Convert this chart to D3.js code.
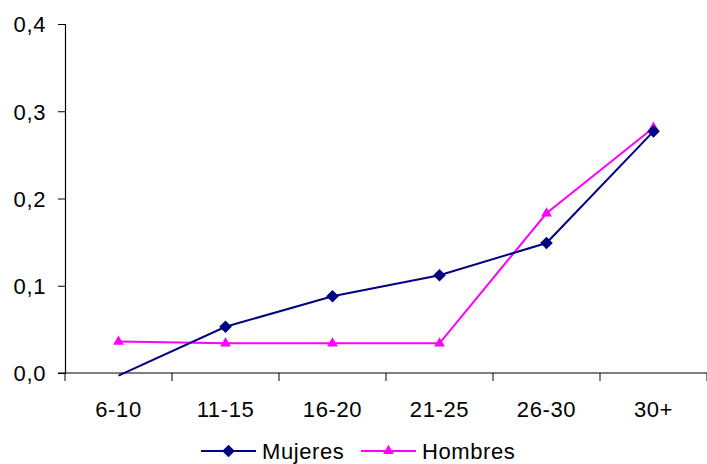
<!DOCTYPE html>
<html><head><meta charset="utf-8">
<script src="https://cdn.jsdelivr.net/npm/d3@7"></script>
<style>body{margin:0;background:#fff}svg{display:block}text{font-family:"Liberation Sans",Arial,sans-serif;fill:#000;letter-spacing:0.6px}</style>
</head><body>
<script>
const categories = ["6-10","11-15","16-20","21-25","26-30","30+"];
const mujeres = [-0.003, 0.053, 0.088, 0.112, 0.149, 0.277];
const hombres = [0.036, 0.034, 0.034, 0.034, 0.183, 0.281];
const yTicks = [0, 0.1, 0.2, 0.3, 0.4];
const yTickLabels = ["0,0","0,1","0,2","0,3","0,4"];
const seriesNames = ["Mujeres","Hombres"];

(function(){
const W = 707, H = 464;
const FS = "22px";
const svg = d3.select("body").append("svg").attr("width", W).attr("height", H);
const mLeft = 65, mRight = 707, mTop = 24, mBottom = 373;
const x = d3.scaleBand().domain(categories).range([mLeft, mRight]);
const y = d3.scaleLinear().domain([0, 0.4]).range([mBottom, mTop]);

const yAxis = d3.axisLeft(y).tickValues(yTicks).tickSize(7).tickPadding(12)
  .tickFormat((d,i) => yTickLabels[i]);
const gy = svg.append("g").attr("transform", `translate(${mLeft},0)`).call(yAxis);
gy.select(".domain").attr("stroke", "#000").attr("stroke-width", 1.2);
gy.selectAll(".tick line").attr("stroke", "#000");
gy.selectAll("text").style("font-size", FS).attr("dy", "0.36em")
  .style("font-family", "'Liberation Sans', Arial, sans-serif");

const gx = svg.append("g").attr("transform", `translate(0,${mBottom})`);
gx.append("line").attr("x1", mLeft - 7).attr("x2", mRight).attr("y1", 0).attr("y2", 0).attr("stroke", "#000").attr("stroke-width", 1.2);
const bounds = categories.map(c => x(c)).concat([x(categories[categories.length-1]) + x.bandwidth()]);
gx.selectAll(".xt").data(bounds).join("line").attr("x1", d => d).attr("x2", d => d)
  .attr("y1", 0).attr("y2", 8).attr("stroke", "#000");
gx.selectAll(".xl").data(categories).join("text")
  .attr("x", d => x(d) + x.bandwidth()/2).attr("y", 43.5)
  .attr("text-anchor", "middle").style("font-size", FS).text(d => d);

const cx = d => x(d) + x.bandwidth()/2;
const line = d3.line().x((d,i) => cx(categories[i])).y(d => y(d));

const diamond = d3.symbol().type(d3.symbolSquare).size(80);
const tri = d3.symbol().type(d3.symbolTriangle).size(50);

svg.append("path").datum(hombres).attr("d", line).attr("fill", "none").attr("stroke", "#FF00FF").attr("stroke-width", 2);
svg.append("path").datum(mujeres).attr("d", line).attr("fill", "none").attr("stroke", "#000080").attr("stroke-width", 2);

svg.selectAll(".hm").data(hombres).join("path")
  .attr("transform", (d,i) => `translate(${cx(categories[i])},${y(d)})`)
  .attr("d", tri).attr("fill", "#FF00FF");
svg.selectAll(".mm").data(mujeres.map((v,i)=>({v,i})).filter(d => d.v >= 0)).join("path")
  .attr("transform", d => `translate(${cx(categories[d.i])},${y(d.v)}) rotate(45)`)
  .attr("d", diamond).attr("fill", "#000080");

const leg = svg.append("g");
const items = [
  {name: seriesNames[0], color: "#000080", sym: diamond, rot: 45, x0: 201},
  {name: seriesNames[1], color: "#FF00FF", sym: tri, rot: 0, x0: 361}
];
const ly = 451;
items.forEach(it => {
  leg.append("line").attr("x1", it.x0).attr("x2", it.x0 + 55).attr("y1", ly).attr("y2", ly)
    .attr("stroke", it.color).attr("stroke-width", 2);
  leg.append("path").attr("transform", `translate(${it.x0 + 27.5},${ly}) rotate(${it.rot})`).attr("d", it.sym).attr("fill", it.color);
  leg.append("text").attr("x", it.x0 + 61).attr("y", ly).attr("dy", "0.36em").style("font-size", FS).text(it.name);
});
})();
</script>
</body></html>
